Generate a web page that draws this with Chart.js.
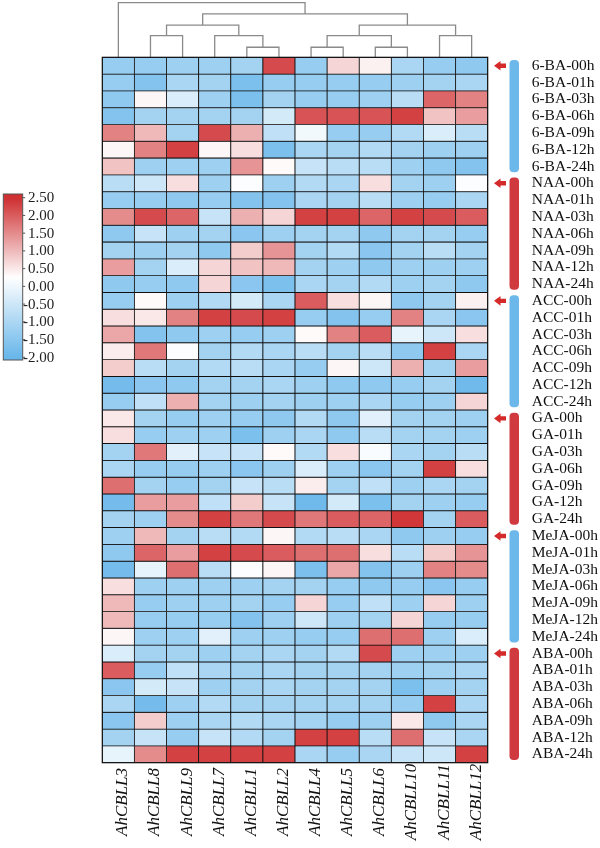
<!DOCTYPE html>
<html lang="en">
<head>
<meta charset="UTF-8">
<title>AhCBLL expression heatmap</title>
<script src="https://cdn.jsdelivr.net/npm/chart.js"></script>
<style>
  html, body { margin: 0; padding: 0; background: #fff; }
  #wrap { width: 600px; height: 848px; position: relative; }
</style>
</head>
<body>
<div id="wrap"><canvas id="heat"></canvas></div>
<script>
// column order as shown after clustering
const genes = ['AhCBLL3', 'AhCBLL8', 'AhCBLL9', 'AhCBLL7', 'AhCBLL1', 'AhCBLL2',
               'AhCBLL4', 'AhCBLL5', 'AhCBLL6', 'AhCBLL10', 'AhCBLL11', 'AhCBLL12'];
const treatments = ['6-BA', 'NAA', 'ACC', 'GA', 'MeJA', 'ABA'];
const times = ['00h', '01h', '03h', '06h', '09h', '12h', '24h'];
const legendTicks = [2.5, 2.0, 1.5, 1.0, 0.5, 0, -0.5, -1.0, -1.5, -2.0];

// one row per time point, one value per gene (same order as genes)
const ba6 = [
  [-1.3, -1.3, -1.2, -1.2, -1.1,  2.2, -1.3,  0.7,  0.4, -1.0, -1.3, -1.4],
  [-1.3, -1.6, -1.0, -1.1, -1.7, -1.3, -1.3, -1.3, -1.3, -1.2, -1.1, -1.0],
  [-1.4,  0.35, -0.3, -1.2, -1.7, -1.1, -1.3, -1.3, -1.2, -0.8,  1.9,  1.6],
  [-1.6, -1.1, -1.1, -1.1, -1.1, -0.4,  2.1,  2.1,  2.1,  2.3,  0.9,  1.3],
  [ 1.6,  1.0, -1.1,  2.2,  1.1, -0.7,  0.05, -1.3, -1.3, -0.9, -0.3, -0.8],
  [ 0.35, 1.6,  2.3,  0.35, 0.6, -1.7, -1.0, -1.1, -0.9, -1.1, -1.2, -1.2],
  [ 0.9, -1.2, -1.2, -1.2,  1.4,  0.3, -0.6, -0.8, -0.8, -1.2, -1.4, -1.6]
];
const naa = [
  [-0.8, -0.5,  0.6, -1.2,  0.2, -1.2, -0.9, -1.0,  0.6, -1.1, -1.2,  0.2],
  [-1.3, -1.3, -1.4, -1.3, -1.6, -1.6, -1.0, -1.1, -0.8, -1.2, -1.3, -1.0],
  [ 1.5,  2.2,  1.9, -0.6,  1.1,  0.7,  2.3,  2.3,  1.9,  2.3,  2.2,  2.0],
  [-1.4, -0.6, -1.2, -1.1, -1.5, -1.2, -1.1, -1.1, -1.4, -1.1, -1.1, -1.3],
  [-1.1, -1.2, -1.1, -1.4,  0.8,  1.4, -1.1, -0.9, -1.5, -1.1, -0.8, -1.1],
  [ 1.3, -1.1, -0.3,  0.7,  0.9,  1.0, -1.1, -1.2, -1.4, -1.2, -1.2, -1.2],
  [-1.4, -1.3, -1.4,  0.7, -1.5, -1.7, -1.0, -1.1, -0.9, -1.2, -1.1, -1.4]
];
const acc = [
  [-1.3,  0.3, -1.2, -0.9, -0.4, -1.0,  2.0,  0.6,  0.35, -1.4, -1.1,  0.4],
  [ 0.6,  0.5,  1.6,  2.3,  2.2,  2.3, -1.3, -1.6, -1.3,  1.6, -1.0, -1.5],
  [ 1.2, -1.6, -1.4, -1.2, -1.3, -1.2,  0.3,  1.6,  2.0, -0.1, -0.5,  0.6],
  [ 0.45, 1.7,  0.2, -1.1, -0.9, -1.0, -0.8, -1.1, -0.8, -1.4,  2.3, -1.0],
  [ 0.8, -0.8, -1.1, -0.9, -0.8, -1.0, -1.3,  0.35, -0.5,  1.1, -1.1,  1.3],
  [-1.8, -1.5, -1.4, -1.1, -1.1, -1.0, -1.2, -1.4, -1.4, -1.3, -1.1, -1.9],
  [-1.3, -0.7,  1.1, -1.1, -1.2, -1.1, -1.2, -1.2, -1.0, -1.3, -1.2,  0.7]
];
const ga = [
  [ 0.5, -1.1, -1.3, -1.2, -1.3, -1.4, -0.9, -1.4, -0.2, -1.1, -1.1, -1.2],
  [ 0.6, -1.3, -1.2, -1.2, -1.7, -1.2, -1.0, -1.4, -0.8, -1.1, -1.1, -1.2],
  [-1.1,  1.7, -0.2, -0.6, -0.6,  0.3, -0.9,  0.6,  0.15, -1.0, -1.1, -0.8],
  [-1.0, -1.3, -1.3, -1.2, -1.5, -1.2, -0.3, -1.2, -1.5, -1.1,  2.3,  0.6],
  [ 1.8, -1.1, -1.3, -1.1, -0.6, -0.8,  0.45, -1.1, -0.7, -1.2, -1.0, -1.1],
  [-1.8,  1.3,  1.3, -0.7,  0.8, -0.6, -1.9, -0.4, -1.7, -1.1, -1.2, -1.3],
  [-1.1, -1.2,  1.5,  2.3,  1.7,  2.2,  1.7,  2.0,  1.9,  2.4, -1.1,  2.0]
];
const meja = [
  [-1.2,  1.0, -1.1, -0.8, -0.9,  0.35, -0.9, -0.8, -1.0, -1.4, -1.2, -1.3],
  [-1.4,  1.9,  1.3,  2.3,  2.2,  2.0,  1.8,  1.8,  0.6, -0.8,  0.8,  1.4],
  [-1.8, -0.1,  1.8, -0.8,  0.2,  0.35, -1.7,  1.2, -1.6, -1.2,  1.6,  1.5],
  [ 0.6, -1.2, -1.2, -1.2, -1.2, -1.1, -1.1, -1.3, -1.4, -1.3, -1.5, -1.3],
  [ 1.0, -1.3, -1.2, -1.2, -1.1, -1.3,  0.7, -1.3, -0.7, -1.2,  0.7, -1.2],
  [ 1.0, -1.3, -1.3, -1.3, -1.6, -1.2, -0.5, -1.2, -1.1,  0.7, -1.3, -1.3],
  [ 0.35, -1.2, -1.2, -0.2, -1.2, -1.2, -1.3, -1.3,  1.8,  1.8, -1.2, -0.3]
];
const aba = [
  [-0.3, -1.1, -1.1, -1.2, -1.1, -1.0, -1.1, -0.9,  2.2, -1.2, -1.2, -1.2],
  [ 2.0, -1.3, -0.7, -1.0, -1.1, -1.0, -1.1, -1.1, -1.1, -1.2, -1.1, -1.0],
  [-1.5, -0.4, -0.6, -1.2, -1.1, -1.0, -1.1, -1.1, -1.1, -1.7, -1.2, -1.1],
  [-1.0, -1.8, -1.2, -0.9, -1.1, -1.1, -1.1, -1.1, -1.1, -1.3,  2.3, -1.0],
  [-1.5,  0.8, -1.2, -1.0, -0.9, -1.0, -1.1, -1.3, -1.2,  0.5, -1.4, -1.0],
  [-1.1, -0.6, -1.3, -0.6, -0.9, -1.1,  2.3,  2.3, -0.8,  1.8, -0.6, -1.0],
  [-0.1,  1.5,  2.3,  2.3,  2.3,  2.3, -1.0, -1.3, -1.0, -0.6, -0.5,  2.3]
];

// column dendrogram: [left, right, height]; ids 0-11 are genes, 12+ are the merges below in order
const merges = [
  [4, 5, 0.6], [6, 7, 0.6], [8, 9, 0.6],
  [3, 12, 1.29], [1, 2, 1.29], [13, 14, 1.29], [10, 11, 1.29],
  [16, 15, 1.92], [17, 18, 1.92],
  [19, 20, 2.58],
  [0, 21, 3.25]
];

const rows = [ba6, naa, acc, ga, meja, aba].flat();
const rowLabels = treatments.flatMap(t => times.map(h => t + '-' + h));

const RED = [207, 46, 48];
const BLUE = [104, 182, 234];
const MID = 0.25;

function colorOf(v) {
  let t, c;
  if (v >= MID) { t = Math.min((v - MID) / (2.5 - MID), 1); c = RED; }
  else { t = Math.min((MID - v) / (MID + 2), 1); c = BLUE; }
  const m = k => Math.round(255 + (c[k] - 255) * t);
  return 'rgb(' + m(0) + ',' + m(1) + ',' + m(2) + ')';
}

// heatmap cells: one floating bar per cell
const cellSets = rows.map((vals, r) => ({
  type: 'bar',
  label: rowLabels[r],
  data: vals.map((v, c) => ({ x: c, y: [r, r + 1] })),
  backgroundColor: vals.map(colorOf),
  borderColor: '#111',
  borderWidth: 0.8,
  borderSkipped: false,
  grouped: false,
  barPercentage: 1,
  categoryPercentage: 1
}));

// dendrogram branches as line datasets (heights go upward, i.e. negative y)
const nodes = genes.map((g, i) => ({ x: i, h: 0 }));
const treeSets = merges.map(([a, b, h]) => {
  const l = nodes[a], r = nodes[b];
  nodes.push({ x: (l.x + r.x) / 2, h: h });
  return {
    type: 'line',
    data: [{ x: l.x, y: -l.h }, { x: l.x, y: -h }, { x: r.x, y: -h }, { x: r.x, y: -r.h }],
    borderColor: '#8a8a8a',
    borderWidth: 1.3,
    pointRadius: 0,
    fill: false,
    tension: 0
  };
});

const decor = {
  id: 'decor',
  afterDraw(chart) {
    const { ctx, scales: { x, y } } = chart;
    ctx.save();

    // outer frame of the heatmap
    ctx.strokeStyle = '#111';
    ctx.lineWidth = 1.2;
    const x0 = x.getPixelForValue(-0.5), x1 = x.getPixelForValue(genes.length - 0.5);
    const y0 = y.getPixelForValue(0), y1 = y.getPixelForValue(rows.length);
    ctx.strokeRect(x0, y0, x1 - x0, y1 - y0);

    // gene names under the columns
    ctx.font = 'italic 17px "Liberation Serif"';
    ctx.fillStyle = '#111';
    ctx.textAlign = 'center';
    ctx.textBaseline = 'alphabetic';
    genes.forEach((g, i) => {
      ctx.save();
      ctx.translate(x.getPixelForValue(i), 802);
      ctx.rotate(-Math.PI / 2);
      ctx.fillText(g, 0, 9);
      ctx.restore();
    });

    // treatment group bars and arrows
    treatments.forEach((t, gi) => {
      const top = y.getPixelForValue(gi * times.length);
      const bot = y.getPixelForValue((gi + 1) * times.length);
      ctx.fillStyle = gi % 2 ? '#d03a3e' : '#6cb8ea';
      ctx.beginPath();
      ctx.roundRect(509.5, top + 2.7, 9.5, bot - top - 5.4, 4);
      ctx.fill();

      const cy = y.getPixelForValue(gi * times.length + 0.5);
      ctx.fillStyle = '#d42a2a';
      ctx.beginPath();
      ctx.moveTo(494, cy);
      ctx.lineTo(500.5, cy - 4.8);
      ctx.lineTo(500.5, cy - 2.2);
      ctx.lineTo(506, cy - 2.2);
      ctx.lineTo(506, cy + 2.2);
      ctx.lineTo(500.5, cy + 2.2);
      ctx.lineTo(500.5, cy + 4.8);
      ctx.closePath();
      ctx.fill();
    });

    // colour key
    const kTop = 194, kBot = 360, kL = 3.3, kR = 22.7;
    const yHi = 197.7, yLo = 357.3;
    const v2y = v => yHi + (2.5 - v) * (yLo - yHi) / 4.5;
    const grad = ctx.createLinearGradient(0, kTop, 0, kBot);
    for (let k = 0; k <= 30; k++) {
      const yy = kTop + (kBot - kTop) * k / 30;
      grad.addColorStop(k / 30, colorOf(2.5 - (yy - yHi) * 4.5 / (yLo - yHi)));
    }
    ctx.fillStyle = grad;
    ctx.fillRect(kL, kTop, kR - kL, kBot - kTop);
    ctx.strokeStyle = '#555';
    ctx.lineWidth = 1;
    ctx.strokeRect(kL, kTop, kR - kL, kBot - kTop);

    ctx.font = '15px "Liberation Serif"';
    ctx.fillStyle = '#222';
    ctx.textAlign = 'left';
    ctx.textBaseline = 'middle';
    const dash = ctx.measureText('-').width;
    legendTicks.forEach(v => {
      const ty = v2y(v);
      ctx.beginPath();
      ctx.moveTo(kR, ty);
      ctx.lineTo(kR + 2.5, ty);
      ctx.stroke();
      ctx.fillText(v.toFixed(2), v < 0 ? 28 - dash : 28, ty + 0.5);
    });

    ctx.restore();
  }
};

new Chart(document.getElementById('heat'), {
  type: 'bar',
  data: { datasets: [...cellSets, ...treeSets] },
  options: {
    responsive: true,
    maintainAspectRatio: false,
    animation: false,
    layout: { padding: { left: 102.3, top: 0.2, bottom: 85.3, right: 0 } },
    plugins: { legend: { display: false }, tooltip: { enabled: false } },
    scales: {
      x: {
        type: 'linear',
        display: false,
        offset: false,
        min: -0.5,
        max: genes.length - 0.5,
        afterBuildTicks: s => { s.ticks = genes.map((g, i) => ({ value: i })); }
      },
      y: {
        type: 'linear',
        position: 'right',
        reverse: true,
        min: -3.4,
        max: rows.length,
        grid: { display: false, drawTicks: false },
        border: { display: false },
        afterBuildTicks: s => { s.ticks = rowLabels.map((l, i) => ({ value: i + 0.5 })); },
        afterFit: s => { s.width = 112.3; s.paddingTop = 0; s.paddingBottom = 0; },
        ticks: {
          autoSkip: false,
          padding: 44,
          color: '#111',
          font: { family: 'Liberation Serif', size: 15.5 },
          callback: (v, i) => rowLabels[i]
        }
      }
    }
  },
  plugins: [decor]
});
</script>
</body>
</html>
